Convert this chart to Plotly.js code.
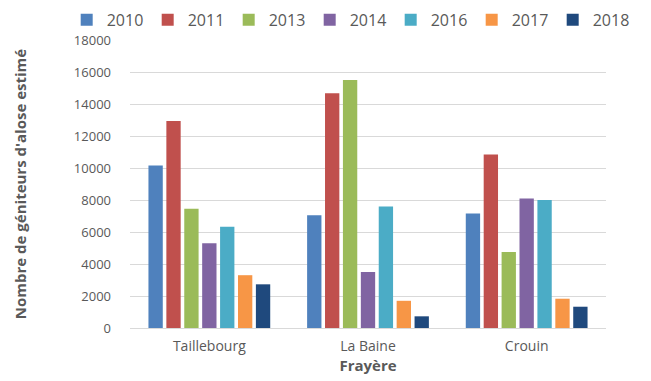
<!DOCTYPE html>
<html>
<head>
<meta charset="utf-8">
<script src="https://cdn.plot.ly/plotly-3.0.1.min.js"></script>
<style>html,body{margin:0;padding:0;background:#fff;}#chart{width:651px;height:381px;}</style>
</head>
<body>
<div id="chart"></div>
<script>
const categories = ["Taillebourg", "La Baine", "Crouin"];
const years = ["2010", "2011", "2013", "2014", "2016", "2017", "2018"];
const v2010 = [10150, 7050, 7150];
const v2011 = [12930, 14670, 10850];
const v2013 = [7450, 15500, 4750];
const v2014 = [5300, 3500, 8100];
const v2016 = [6330, 7600, 8000];
const v2017 = [3300, 1700, 1830];
const v2018 = [2730, 730, 1330];
const seriesValues = [v2010, v2011, v2013, v2014, v2016, v2017, v2018];
const colors = ["#4F81BD", "#C0504D", "#9BBB59", "#8064A2", "#4BACC6", "#F79646", "#1F497D"];
const yTicks = [0, 2000, 4000, 6000, 8000, 10000, 12000, 14000, 16000, 18000];

const traces = years.map((y, i) => ({
  type: "bar",
  name: y,
  x: categories,
  y: seriesValues[i],
  marker: {color: colors[i], line: {width: 0}},
  hoverinfo: "x+y+name"
}));

const font = "'Open Sans', 'DejaVu Sans', sans-serif";
const layout = {
  width: 651, height: 381,
  margin: {l: 130, r: 45, t: 40, b: 53, autoexpand: false},
  paper_bgcolor: "#fff", plot_bgcolor: "#fff",
  barmode: "group", bargap: 0.21, bargroupgap: 0.2,
  font: {family: font, color: "#595959", size: 13},
  showlegend: true,
  legend: {
    orientation: "h", x: -0.133, xanchor: "left", y: 1.07, yanchor: "middle",
    font: {family: font, size: 16, color: "#595959"},
    itemwidth: 30, entrywidth: 36, traceorder: "normal",
    bgcolor: "rgba(0,0,0,0)"
  },
  xaxis: {
    type: "category", showgrid: false, showline: false, zeroline: false,
    ticks: "", tickfont: {size: 14, color: "#595959"},
    ticklabelstandoff: 8,
    title: {text: "Frayère", font: {size: 15, color: "#595959", family: font, weight: "bold"}, standoff: 2}
  },
  yaxis: {
    range: [0, 18000], tickvals: yTicks, ticktext: yTicks.map(String),
    showgrid: true, gridcolor: "#D9D9D9", gridwidth: 1,
    zeroline: true, zerolinecolor: "#D9D9D9", zerolinewidth: 1,
    showline: false, ticks: "", ticklabelstandoff: 18,
    tickfont: {size: 13, color: "#595959"},
    title: {text: "Nombre de géniteurs d'alose estimé", font: {size: 15, color: "#595959", family: font, weight: "bold"}, standoff: 43}
  }
};

Plotly.newPlot("chart", traces, layout, {displayModeBar: false, staticPlot: true});
</script>
</body>
</html>
